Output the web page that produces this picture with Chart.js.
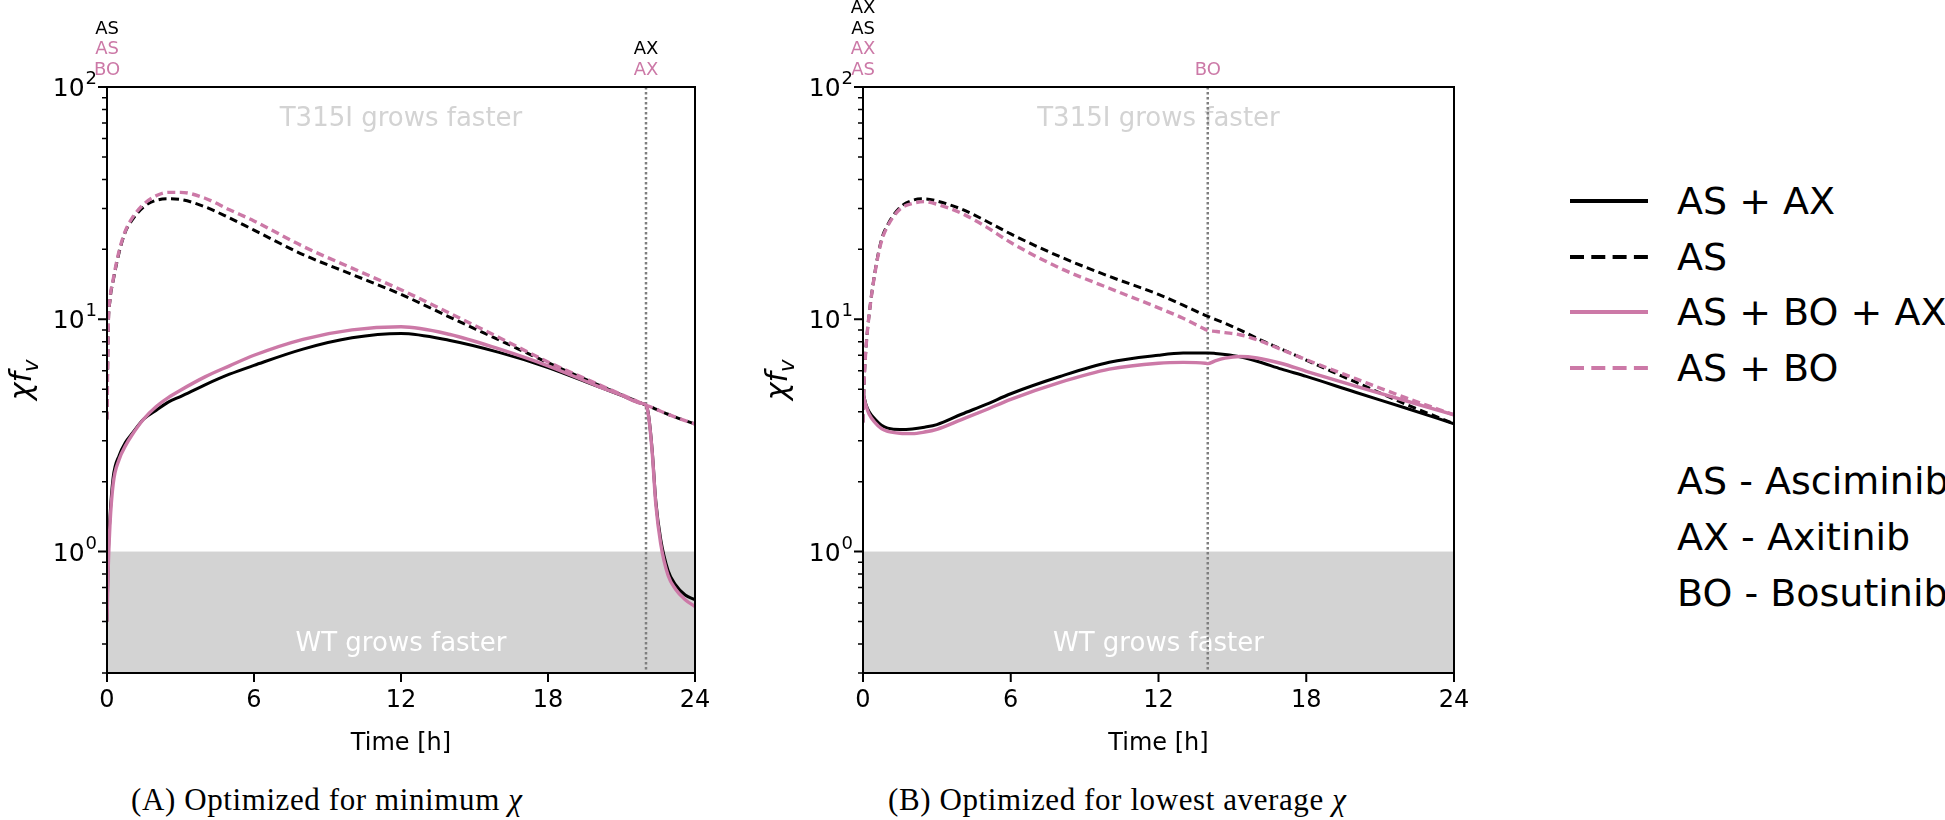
<!DOCTYPE html>
<html>
<head>
<meta charset="utf-8">
<script src="https://cdn.jsdelivr.net/npm/chart.js@4.4.0/dist/chart.umd.min.js"></script>
<style>
  html, body { margin: 0; padding: 0; background: #fff; }
  body { width: 1945px; height: 820px; position: relative; overflow: hidden; font-family: "DejaVu Sans", sans-serif; }
  .panel { position: absolute; top: 0; height: 760px; }
  #wrapA { left: 0; width: 720px; }
  #wrapB { left: 756px; width: 723px; }
  .caption { position: absolute; top: 782px; font-family: "Liberation Serif", serif; font-size: 31px; line-height: 36px; white-space: nowrap; letter-spacing: 0.6px; }
  .caption i { font-style: italic; }
  .lrow { position: absolute; left: 1570px; height: 44px; line-height: 44px; font-size: 38px; color: #000; white-space: nowrap; }
  .lrow svg { position: absolute; left: 0; top: 18px; }
  .lrow span { position: absolute; left: 107px; top: 0; }
</style>
</head>
<body>
<div class="panel" id="wrapA"><canvas id="chartA"></canvas></div>
<div class="panel" id="wrapB"><canvas id="chartB"></canvas></div>
<div class="caption" style="left:131px">(A) Optimized for minimum <i>χ</i></div>
<div class="caption" style="left:888px">(B) Optimized for lowest average <i>χ</i></div>
<div id="legend"></div>
<script>
const BLACK = "#000000";
const PINK = "#cc79a7";

const seriesNames = ["AS + AX", "AS", "AS + BO + AX", "AS + BO"];
const seriesColors = [BLACK, BLACK, PINK, PINK];
const seriesDashed = [false, true, false, true];
const drugNames = ["AS - Asciminib", "AX - Axitinib", "BO - Bosutinib"];

const xTicks = [0, 6, 12, 18, 24];
const yMajorTicks = [1, 10, 100];
const yMinorTicks = [0.3, 0.4, 0.5, 0.6, 0.7, 0.8, 0.9, 2, 3, 4, 5, 6, 7, 8, 9, 20, 30, 40, 50, 60, 70, 80, 90];

// (A) optimized for minimum chi
const timeA = [0, 0.05, 0.12, 0.25, 0.5, 0.75, 1, 1.5, 2, 2.5, 3, 4, 5, 6, 8, 10, 12, 14, 16, 18, 20, 21, 21.8, 22, 22.1, 22.25, 22.4, 22.6, 22.9, 23.2, 23.6, 24];
const asAxA = [0.5, 0.95, 1.4, 2.08, 2.6, 2.95, 3.2, 3.72, 4.05, 4.4, 4.65, 5.22, 5.8, 6.33, 7.44, 8.32, 8.68, 8.1, 7.2, 6.2, 5.15, 4.7, 4.35, 4.27, 3.9, 2.75, 1.65, 1.13, 0.83, 0.72, 0.65, 0.62];
const asA = [3.7, 9, 12, 14.6, 19.5, 23.8, 26.5, 30.5, 32.5, 33, 32.8, 30.5, 27.3, 24.2, 19.0, 15.6, 12.8, 10.2, 8.15, 6.5, 5.25, 4.73, 4.36, 4.27, 4.23, 4.17, 4.1, 4.02, 3.9, 3.79, 3.66, 3.54];
const asBoAxA = [0.5, 0.85, 1.3, 1.95, 2.5, 2.85, 3.15, 3.72, 4.2, 4.6, 4.95, 5.65, 6.3, 7.0, 8.2, 9.0, 9.28, 8.6, 7.45, 6.3, 5.17, 4.71, 4.35, 4.27, 3.85, 2.7, 1.6, 1.08, 0.79, 0.69, 0.62, 0.58];
const asBoA = [3.7, 9.2, 12.2, 14.8, 19.8, 24, 27, 31.3, 34, 35.2, 35.2, 33.2, 29.6, 26.5, 20.6, 16.6, 13.4, 10.6, 8.35, 6.55, 5.28, 4.74, 4.36, 4.27, 4.23, 4.17, 4.1, 4.02, 3.9, 3.79, 3.66, 3.54];

// (B) optimized for lowest average chi
const timeB = [0, 0.05, 0.12, 0.25, 0.5, 0.75, 1, 1.5, 2, 2.5, 3, 4, 5, 6, 8, 10, 12, 13, 13.9, 14, 14.3, 14.7, 15.3, 16, 17, 18, 20, 22, 24];
const asAxB = [4.8, 4.6, 4.3, 4.0, 3.7, 3.5, 3.4, 3.35, 3.37, 3.43, 3.52, 3.9, 4.3, 4.78, 5.67, 6.53, 7.0, 7.15, 7.16, 7.16, 7.13, 7.06, 6.9, 6.6, 6.1, 5.68, 4.85, 4.16, 3.55];
const asB = [3.6, 5.5, 7.5, 10.5, 16.3, 22, 25.5, 30.3, 32.5, 33, 32.3, 29.8, 26.5, 23.3, 18.6, 15.3, 12.8, 11.5, 10.4, 10.3, 10.0, 9.6, 9.0, 8.28, 7.43, 6.67, 5.37, 4.33, 3.55];
const asBoAxB = [4.8, 4.55, 4.25, 3.9, 3.58, 3.38, 3.29, 3.23, 3.22, 3.27, 3.36, 3.7, 4.08, 4.52, 5.35, 6.1, 6.47, 6.52, 6.47, 6.44, 6.62, 6.8, 6.91, 6.81, 6.45, 5.97, 5.16, 4.47, 3.88];
const asBoB = [3.6, 5.5, 7.5, 10.5, 16.2, 21.7, 25.2, 29.8, 31.5, 32.1, 31.3, 28.6, 25.0, 21.4, 16.6, 13.6, 11.2, 10.1, 9.05, 8.95, 8.87, 8.76, 8.58, 8.16, 7.4, 6.7, 5.55, 4.61, 3.88];

// drug switch markers above the plots (top to bottom)
const switchA = 22;
const markTimesA = [0, 22];
const markLabelsA = [["AS", "AS", "BO"], ["AX", "AX"]];
const markColorsA = [[BLACK, PINK, PINK], [BLACK, PINK]];
const switchB = 14;
const markTimesB = [0, 14];
const markLabelsB = [["AX", "AS", "AX", "AS"], ["BO"]];
const markColorsB = [[BLACK, BLACK, PINK, PINK], [PINK]];

const decorPlugin = {
  id: "decor",
  beforeDatasetsDraw(chart, args, opts) {
    const { ctx, chartArea: a, scales: { x, y } } = chart;
    ctx.save();
    const y1 = y.getPixelForValue(1);
    ctx.fillStyle = "#d3d3d3";
    ctx.fillRect(a.left, y1, a.right - a.left, a.bottom - y1);

    ctx.font = "26px 'DejaVu Sans'";
    ctx.textAlign = "center";
    ctx.textBaseline = "middle";
    const xm = x.getPixelForValue(12);
    ctx.fillStyle = "#d3d3d3";
    ctx.fillText("T315I grows faster", xm, a.top + 32);
    ctx.fillStyle = "#ffffff";
    ctx.fillText("WT grows faster", xm, a.bottom - 29);

    const xv = x.getPixelForValue(opts.vline);
    ctx.strokeStyle = "#7f7f7f";
    ctx.lineWidth = 2.5;
    ctx.setLineDash([2.5, 2.5]);
    ctx.beginPath();
    ctx.moveTo(xv, a.top);
    ctx.lineTo(xv, a.bottom);
    ctx.stroke();
    ctx.restore();
  },
  afterDraw(chart, args, opts) {
    const { ctx, chartArea: a, scales: { x, y } } = chart;
    ctx.save();
    ctx.strokeStyle = "#000";
    ctx.lineWidth = 2;
    ctx.strokeRect(a.left, a.top, a.right - a.left, a.bottom - a.top);

    // tick marks
    ctx.beginPath();
    xTicks.forEach(v => {
      const px = x.getPixelForValue(v);
      ctx.moveTo(px, a.bottom);
      ctx.lineTo(px, a.bottom + 9);
    });
    yMajorTicks.forEach(v => {
      const py = y.getPixelForValue(v);
      ctx.moveTo(a.left - 9, py);
      ctx.lineTo(a.left, py);
    });
    ctx.stroke();
    ctx.lineWidth = 1.5;
    ctx.beginPath();
    yMinorTicks.forEach(v => {
      const py = y.getPixelForValue(v);
      ctx.moveTo(a.left - 5, py);
      ctx.lineTo(a.left, py);
    });
    ctx.stroke();

    // y tick labels 10^k
    ctx.fillStyle = "#000";
    ctx.textAlign = "left";
    ctx.textBaseline = "alphabetic";
    yMajorTicks.forEach(v => {
      const py = y.getPixelForValue(v);
      const exp = String(Math.round(Math.log10(v)));
      ctx.font = "25px 'DejaVu Sans'";
      const wb = ctx.measureText("10").width;
      ctx.font = "18px 'DejaVu Sans'";
      const we = ctx.measureText(exp).width;
      const x0 = a.left - 11 - wb - we;
      ctx.font = "25px 'DejaVu Sans'";
      ctx.fillText("10", x0, py + 9);
      ctx.font = "18px 'DejaVu Sans'";
      ctx.fillText(exp, x0 + wb + 1, py - 3);
    });

    // drug labels above the axes
    ctx.font = "18px 'DejaVu Sans'";
    ctx.textAlign = "center";
    ctx.textBaseline = "middle";
    opts.times.forEach((t, i) => {
      const px = x.getPixelForValue(t);
      const labels = opts.labels[i];
      labels.forEach((txt, j) => {
        ctx.fillStyle = opts.colors[i][j];
        ctx.fillText(txt, px, a.top - 17 - (labels.length - 1 - j) * 20.5);
      });
    });

    // y axis label: chi f_v
    ctx.translate(a.left - 85, (a.top + a.bottom) / 2);
    ctx.rotate(-Math.PI / 2);
    ctx.fillStyle = "#000";
    ctx.textAlign = "left";
    ctx.textBaseline = "alphabetic";
    ctx.font = "italic 30px 'DejaVu Sans'";
    const w1 = ctx.measureText("\u03c7f").width;
    ctx.font = "italic 21px 'DejaVu Sans'";
    const w2 = ctx.measureText("v").width;
    const x0 = -(w1 + w2) / 2;
    ctx.font = "italic 30px 'DejaVu Sans'";
    ctx.fillText("\u03c7f", x0, 9);
    ctx.font = "italic 21px 'DejaVu Sans'";
    ctx.fillText("v", x0 + w1, 16);
    ctx.restore();
  }
};

function makeChart(id, time, values, decor) {
  const order = [1, 1, 0, 0];
  return new Chart(document.getElementById(id), {
    type: "line",
    data: {
      datasets: values.map((vals, i) => ({
        label: seriesNames[i],
        data: time.map((t, k) => ({ x: t, y: vals[k] })),
        borderColor: seriesColors[i],
        borderWidth: seriesColors[i] === PINK ? 3.4 : 3,
        borderDash: seriesDashed[i] ? [8, 4.5] : [],
        pointRadius: 0,
        cubicInterpolationMode: "monotone",
        fill: false,
        order: order[i],
      })),
    },
    options: {
      responsive: true,
      maintainAspectRatio: false,
      animation: false,
      events: [],
      layout: { padding: { left: 0, top: 87, right: 25, bottom: 0 } },
      plugins: { legend: { display: false }, tooltip: { enabled: false }, decor: decor },
      scales: {
        x: {
          type: "linear", min: 0, max: 24,
          afterBuildTicks: s => { s.ticks = xTicks.map(v => ({ value: v })); },
          afterFit: s => { s.height = 87; },
          grid: { display: true, drawOnChartArea: false, drawTicks: true, tickLength: 9, tickColor: "rgba(0,0,0,0)" },
          border: { display: false },
          ticks: { color: "#000", font: { family: "DejaVu Sans", size: 24 }, padding: 4, maxRotation: 0, autoSkip: false },
          title: { display: true, text: "Time [h]", color: "#000", font: { family: "DejaVu Sans", size: 24 }, padding: { top: 0, bottom: 2 } },
        },
        y: {
          type: "logarithmic", min: 0.3, max: 100,
          afterBuildTicks: s => { s.ticks = yMajorTicks.map(v => ({ value: v })); },
          afterFit: s => { s.width = 107; },
          grid: { display: false },
          border: { display: false },
          ticks: { display: false },
        },
      },
    },
    plugins: [decorPlugin],
  });
}

makeChart("chartA", timeA, [asAxA, asA, asBoAxA, asBoA],
  { vline: switchA, times: markTimesA, labels: markLabelsA, colors: markColorsA });
makeChart("chartB", timeB, [asAxB, asB, asBoAxB, asBoB],
  { vline: switchB, times: markTimesB, labels: markLabelsB, colors: markColorsB });

// legend, built from the series arrays
const legend = document.getElementById("legend");
const legendCenters = [201, 257, 312, 368];
seriesNames.forEach((name, i) => {
  const row = document.createElement("div");
  row.className = "lrow";
  row.style.top = (legendCenters[i] - 22) + "px";
  const dash = seriesDashed[i] ? ' stroke-dasharray="14 7.3"' : "";
  row.innerHTML = '<svg width="80" height="8"><line x1="0" y1="4" x2="78" y2="4" stroke="' + seriesColors[i] +
    '" stroke-width="4"' + dash + '/></svg><span>' + name + '</span>';
  legend.appendChild(row);
});
const drugCenters = [481, 537, 593];
drugNames.forEach((name, i) => {
  const row = document.createElement("div");
  row.className = "lrow";
  row.style.top = (drugCenters[i] - 22) + "px";
  row.innerHTML = '<span>' + name + '</span>';
  legend.appendChild(row);
});
</script>
</body>
</html>
